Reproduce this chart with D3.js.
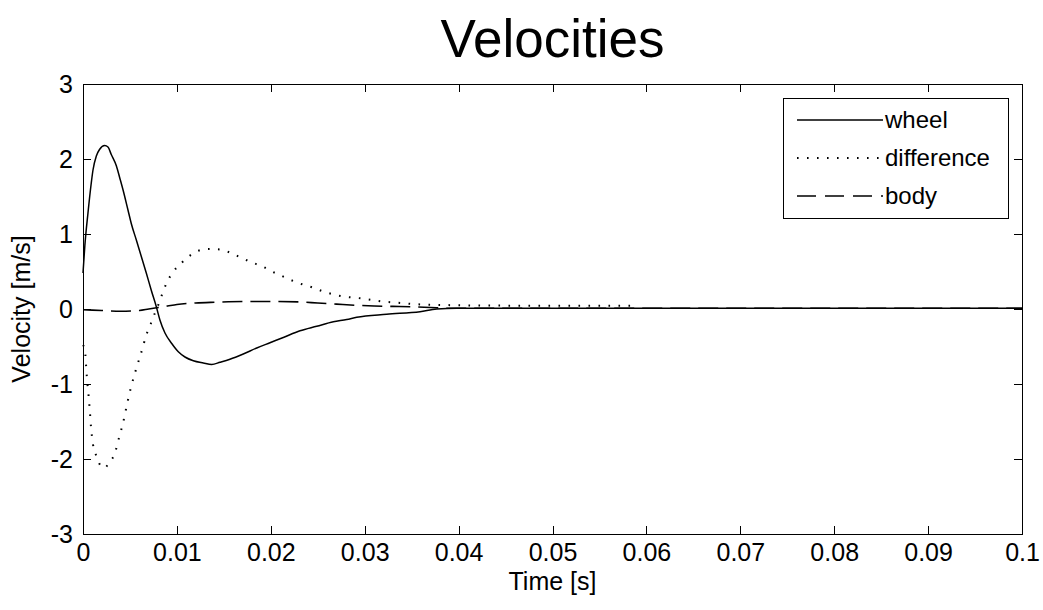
<!DOCTYPE html>
<html>
<head>
<meta charset="utf-8">
<script src="https://cdn.jsdelivr.net/npm/d3@7"></script>
<style>
  html, body { margin: 0; padding: 0; background: #fff; }
  svg { display: block; }
  text { font-family: "Liberation Sans", Arial, sans-serif; fill: #000; }
</style>
</head>
<body>
<svg id="chart" width="1043" height="610"></svg>
<script>
// Time samples [s] and velocities [m/s] for each series
const wheelT = [0, 0.0002, 0.00053, 0.00088, 0.00106, 0.00142, 0.00178, 0.00231, 0.00266, 0.00301,
  0.00355, 0.00391, 0.00426, 0.00479, 0.00514, 0.00568, 0.00621, 0.00674, 0.00727, 0.00781,
  0.0082, 0.00873, 0.00945, 0.01015, 0.01086, 0.01175, 0.01281, 0.01371, 0.01459, 0.01565,
  0.01707, 0.0185, 0.01991, 0.02133, 0.02311, 0.02489, 0.02666, 0.02808, 0.02915, 0.03234,
  0.03589, 0.03767, 0.0398, 0.045, 0.06, 0.08, 0.1];
const wheelV = [0.48, 0.85, 1.28, 1.68, 1.85, 2.04, 2.13, 2.18, 2.16, 2.06,
  1.91, 1.75, 1.59, 1.32, 1.14, 0.92, 0.70, 0.48, 0.25, 0.03,
  -0.15, -0.32, -0.46, -0.57, -0.64, -0.69, -0.72, -0.74, -0.71, -0.67,
  -0.60, -0.52, -0.45, -0.38, -0.29, -0.23, -0.17, -0.14, -0.11, -0.07,
  -0.036, 0.0, 0.01, 0.01, 0.01, 0.01, 0.01];

const diffT = [0, 0.0002, 0.0004, 0.0007, 0.00085, 0.00106, 0.0015, 0.00192, 0.0023, 0.00277,
  0.0034, 0.00383, 0.00426, 0.00469, 0.0051, 0.00554, 0.00618, 0.00682, 0.00724, 0.00767,
  0.0081, 0.00852, 0.00895, 0.00958, 0.01054, 0.0116, 0.01267, 0.01374, 0.0148, 0.01587,
  0.01693, 0.018, 0.01906, 0.02013, 0.02119, 0.02226, 0.02333, 0.02439, 0.02545, 0.02652,
  0.02758, 0.02971, 0.03078, 0.03184, 0.0329, 0.0361, 0.04, 0.045, 0.05, 0.055, 0.0588];
const diffV = [-0.48, -0.55, -0.89, -1.31, -1.57, -1.80, -1.98, -2.10, -2.12, -2.05,
  -1.92, -1.72, -1.52, -1.27, -1.05, -0.85, -0.59, -0.32, -0.19, -0.05,
  0.08, 0.23, 0.36, 0.49, 0.62, 0.73, 0.79, 0.80, 0.79, 0.74,
  0.68, 0.62, 0.57, 0.50, 0.44, 0.38, 0.33, 0.29, 0.24, 0.20,
  0.17, 0.14, 0.12, 0.10, 0.09, 0.06, 0.05, 0.045, 0.045, 0.045, 0.045];

const bodyT = [0, 0.002, 0.004, 0.006, 0.007, 0.008, 0.009, 0.010, 0.012, 0.014,
  0.017, 0.020, 0.023, 0.025, 0.027, 0.029, 0.031, 0.033, 0.035, 0.037,
  0.039, 0.042, 0.06, 0.08, 0.1];
const bodyV = [-0.01, -0.02, -0.03, -0.02, 0.0, 0.02, 0.04, 0.06, 0.08, 0.09,
  0.10, 0.10, 0.095, 0.08, 0.065, 0.05, 0.04, 0.035, 0.03, 0.02,
  0.01, 0.01, 0.01, 0.01, 0.01];

const xTicks = [0, 0.01, 0.02, 0.03, 0.04, 0.05, 0.06, 0.07, 0.08, 0.09, 0.1];
const yTicks = [-3, -2, -1, 0, 1, 2, 3];
const seriesNames = ["wheel", "difference", "body"];

const svg = d3.select("#chart");
const plotLeft = 83, plotRight = 1022, plotTop = 84, plotBottom = 534;

const x = d3.scaleLinear().domain([0, 0.1]).range([plotLeft, plotRight]);
const y = d3.scaleLinear().domain([-3, 3]).range([plotBottom, plotTop]);

const fmt = d => String(+d.toFixed(2));

// Axes with inward ticks on all four sides
const tickLen = 8;
const gx = svg.append("g").attr("transform", `translate(0,${plotBottom})`)
  .call(d3.axisBottom(x).tickValues(xTicks).tickFormat(fmt).tickSizeInner(-tickLen).tickSizeOuter(0).tickPadding(9));
const gxt = svg.append("g").attr("transform", `translate(0,${plotTop})`)
  .call(d3.axisTop(x).tickValues(xTicks).tickFormat("").tickSizeInner(-tickLen).tickSizeOuter(0));
const gy = svg.append("g").attr("transform", `translate(${plotLeft},0)`)
  .call(d3.axisLeft(y).tickValues(yTicks).tickFormat(fmt).tickSizeInner(-tickLen).tickSizeOuter(0).tickPadding(10));
const gyr = svg.append("g").attr("transform", `translate(${plotRight},0)`)
  .call(d3.axisRight(y).tickValues(yTicks).tickFormat("").tickSizeInner(-tickLen).tickSizeOuter(0));

[gx, gxt, gy, gyr].forEach(g => {
  g.selectAll(".domain").remove();
  g.selectAll("line").attr("stroke", "#000").attr("stroke-width", 1).attr("shape-rendering", "crispEdges");
  g.selectAll("text").style("font-family", '"Liberation Sans", Arial, sans-serif')
    .style("font-size", "25px").attr("fill", "#000");
});

svg.append("rect")
  .attr("x", plotLeft).attr("y", plotTop)
  .attr("width", plotRight - plotLeft).attr("height", plotBottom - plotTop)
  .attr("fill", "none").attr("stroke", "#000").attr("stroke-width", 1)
  .attr("shape-rendering", "crispEdges");

// Curves
const line = d3.line().x(d => x(d[0])).y(d => y(d[1])).curve(d3.curveMonotoneX);
const plot = svg.append("g");

const styles = {
  wheel: { dash: null, width: 1.5 },
  difference: { dash: "1.6 8.4", width: 2 },
  body: { dash: "20 8", width: 1.6 }
};
const data = {
  wheel: d3.zip(wheelT, wheelV),
  difference: d3.zip(diffT, diffV),
  body: d3.zip(bodyT, bodyV)
};

seriesNames.forEach(name => {
  plot.append("path")
    .datum(data[name])
    .attr("d", line)
    .attr("fill", "none")
    .attr("stroke", "#000")
    .attr("stroke-width", styles[name].width)
    .attr("stroke-dasharray", styles[name].dash);
});

// Title and axis labels
svg.append("text")
  .attr("x", (plotLeft + plotRight) / 2).attr("y", 57)
  .attr("text-anchor", "middle")
  .style("font-size", "53px")
  .text("Velocities");

svg.append("text")
  .attr("x", (plotLeft + plotRight) / 2).attr("y", 590)
  .attr("text-anchor", "middle")
  .style("font-size", "25px")
  .text("Time [s]");

svg.append("text")
  .attr("transform", `translate(30,${(plotTop + plotBottom) / 2}) rotate(-90)`)
  .attr("text-anchor", "middle")
  .style("font-size", "25px")
  .text("Velocity [m/s]");

// Legend
const lg = svg.append("g");
lg.append("rect")
  .attr("x", 783).attr("y", 98).attr("width", 225).attr("height", 120)
  .attr("fill", "#fff").attr("stroke", "#000").attr("stroke-width", 1)
  .attr("shape-rendering", "crispEdges");

seriesNames.forEach((name, i) => {
  const ly = 120 + i * 38;
  lg.append("line")
    .attr("x1", 797).attr("x2", 883).attr("y1", ly).attr("y2", ly)
    .attr("stroke", "#000")
    .attr("stroke-width", styles[name].width)
    .attr("stroke-dasharray", name === "body" ? "19 9" : styles[name].dash);
  lg.append("text")
    .attr("x", 885).attr("y", ly).attr("dy", "0.35em")
    .style("font-size", "24px")
    .text(name);
});
</script>
</body>
</html>
